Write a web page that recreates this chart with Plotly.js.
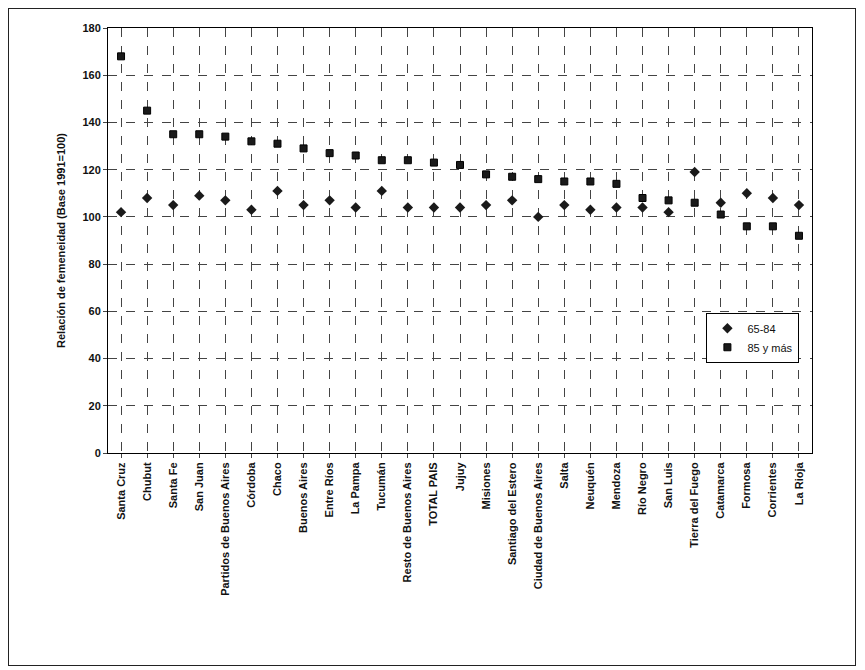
<!DOCTYPE html>
<html>
<head>
<meta charset="utf-8">
<script src="https://cdn.plot.ly/plotly-3.0.1.min.js"></script>
<style>
body{margin:0;background:#fff;}
#frame{position:absolute;left:8px;top:8px;width:846px;height:656px;border:1px solid #222;}
#grafico{position:absolute;left:0;top:0;width:865px;height:670px;}
</style>
</head>
<body>
<div id="frame"></div>
<div id="grafico"></div>
<script>
// provincias
let provincias = ['Santa Cruz','Chubut','Santa Fe','San Juan','Partidos de Buenos Aires','Córdoba','Chaco',
  'Buenos Aires','Entre Ríos','La Pampa','Tucumán','Resto de Buenos Aires','TOTAL PAIS','Jujuy','Misiones',
  'Santiago del Estero','Ciudad de Buenos Aires','Salta','Neuquén','Mendoza','Río Negro','San Luis',
  'Tierra del Fuego','Catamarca','Formosa','Corrientes','La Rioja'];
// 65-84
let v6584 = [102,108,105,109,107,103,111,105,107,104,111,104,104,104,105,107,100,105,103,104,104,102,119,106,110,108,105];
// 85 y mas
let v85 = [168,145,135,135,134,132,131,129,127,126,124,124,123,122,118,117,116,115,115,114,108,107,106,101,96,96,92];

let data = [
  {x: provincias, y: v6584, type:'scatter', mode:'markers', name:'65-84',
   marker:{symbol:'diamond', size:8, color:'#1a1a1a'}},
  {x: provincias, y: v85, type:'scatter', mode:'markers', name:'85 y más',
   marker:{symbol:'square', size:7, color:'#1a1a1a', line:{color:'#000',width:1}}}
];

let layout = {
  width:865, height:670,
  paper_bgcolor:'rgba(0,0,0,0)', plot_bgcolor:'#fff',
  margin:{l:108, r:53, t:28, b:217},
  font:{family:'Arial, Liberation Sans, sans-serif', color:'#111', size:11},
  showlegend:true,
  legend:{x:0.85, y:0.33, xanchor:'left', yanchor:'top', bgcolor:'#fff', bordercolor:'#000', borderwidth:1,
    font:{size:11}, itemwidth:30, tracegroupgap:10},
  xaxis:{
    tickangle:-90, tickfont:{size:11, family:'Arial, Liberation Sans, sans-serif', weight:'bold'},
    showgrid:true, griddash:'dash', gridcolor:'#444', gridwidth:1,
    showline:true, linecolor:'#000', mirror:true, ticks:'outside', ticklen:4,
    range:[-0.5, 26.5]
  },
  yaxis:{
    range:[0,180], dtick:20, tickfont:{size:11, weight:'bold'},
    showgrid:true, griddash:'dash', gridcolor:'#444', gridwidth:1,
    showline:true, linecolor:'#000', mirror:true, ticks:'outside', ticklen:4, zeroline:false,
    title:{text:'<b>Relación de femeneidad (Base 1991=100)</b>', font:{size:11}, standoff:14}
  }
};
Plotly.newPlot('grafico', data, layout, {displayModeBar:false});
</script>
</body>
</html>
